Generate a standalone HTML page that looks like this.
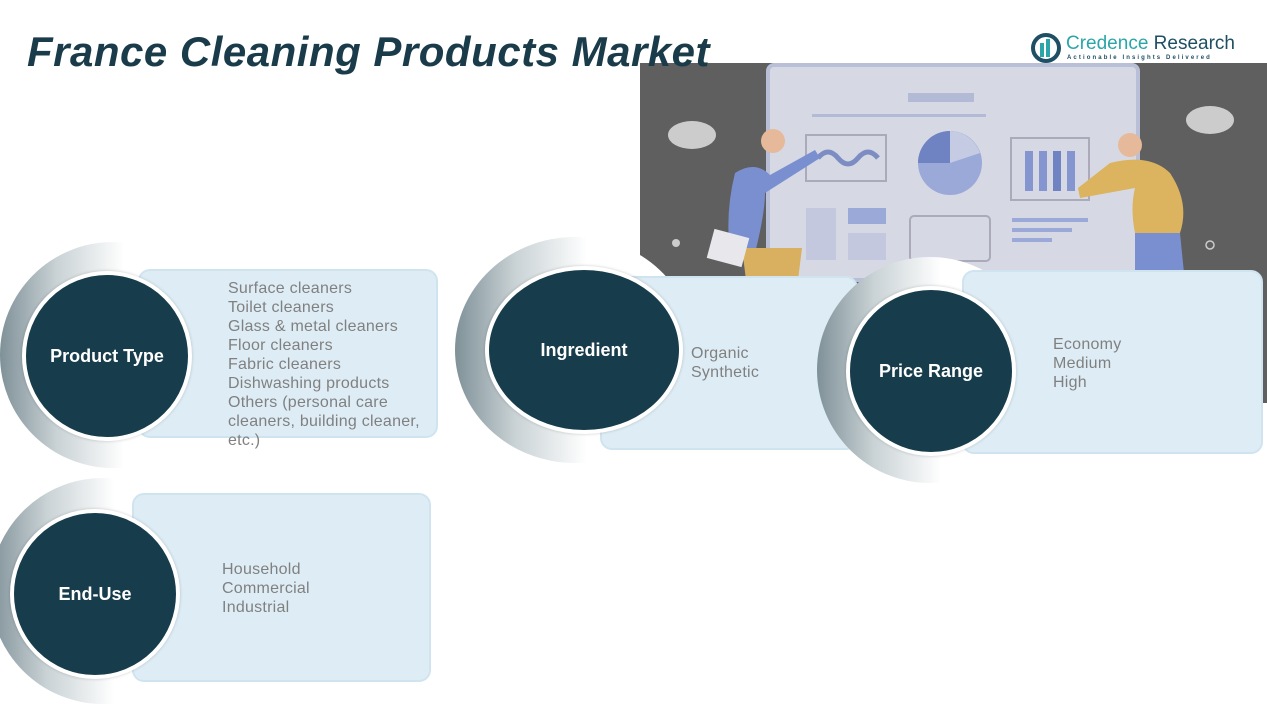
<!DOCTYPE html>
<html><head><meta charset="utf-8"><style>
*{margin:0;padding:0;box-sizing:border-box}
body{width:1267px;height:713px;background:#fff;position:relative;overflow:hidden;font-family:"Liberation Sans",sans-serif}
.title{position:absolute;left:27px;top:28px;font-size:42px;font-weight:bold;font-style:italic;color:#1a3b4a;letter-spacing:0.5px;z-index:2}
.shadow{position:absolute;border-radius:50%;background:linear-gradient(90deg,#7f9198 0%,#c9d2d5 25%,#fff 55%)}
.box{position:absolute;background:#deedf5;border:2px solid #cfe4ef;border-radius:12px}
.circ{position:absolute;border-radius:50%;background:#173c4b;border:4px solid #fff;color:#fff;font-weight:bold;font-size:18px;display:flex;align-items:center;justify-content:center;box-shadow:0 0 3px rgba(0,0,0,.2)}
.txt{position:absolute;color:#808080;font-size:16px;line-height:19px;letter-spacing:0.25px}
</style></head><body>
<div class="title">France Cleaning Products Market</div>
<div style="position:absolute;left:1031px;top:33px;width:30px;height:30px;border-radius:50%;border:4px solid #1f4f63;"></div>
<div style="position:absolute;left:1040px;top:43px;width:4px;height:14px;background:#2aa6a8"></div>
<div style="position:absolute;left:1046px;top:39px;width:4px;height:18px;background:#2aa6a8"></div>
<div style="position:absolute;left:1066px;top:33px;font-size:19px;color:#2aa6a8">Credence <span style="color:#1f4f63">Research</span></div>
<div style="position:absolute;left:1067px;top:55px;font-size:6px;letter-spacing:2.1px;color:#1f4f63;font-weight:bold">Actionable Insights Delivered</div>

<svg style="position:absolute;left:640px;top:63px" width="627" height="340" viewBox="0 0 627 340">
<rect width="627" height="340" fill="#5f5f5f"/>
<rect x="128" y="2" width="370" height="215" rx="6" fill="#d6d9e4" stroke="#b8bfd6" stroke-width="4"/>
<rect x="268" y="30" width="66" height="9" fill="#b2bad6"/>
<rect x="172" y="51" width="174" height="3" fill="#b2bad6"/>
<rect x="166" y="72" width="80" height="46" fill="none" stroke="#aab" stroke-width="2"/>
<path d="M178 95 q10 -12 20 0 t20 0 t20 0" stroke="#7d8dc4" stroke-width="5" fill="none"/>
<circle cx="310" cy="100" r="32" fill="#9ba9d9"/>
<path d="M310 100 L310 68 A32 32 0 0 1 340 90 Z" fill="#c5cbe3"/>
<path d="M310 100 L278 100 A32 32 0 0 1 310 68 Z" fill="#6f82c2"/>
<rect x="371" y="75" width="78" height="62" fill="none" stroke="#aab" stroke-width="2"/>
<rect x="385" y="88" width="8" height="40" fill="#8595cf"/><rect x="399" y="88" width="8" height="40" fill="#8595cf"/><rect x="413" y="88" width="8" height="40" fill="#6f82c2"/><rect x="427" y="88" width="8" height="40" fill="#8595cf"/>
<rect x="166" y="145" width="30" height="52" fill="#c3c8df"/><rect x="208" y="145" width="38" height="16" fill="#9ba9d9"/><rect x="208" y="170" width="38" height="27" fill="#c3c8df"/>
<rect x="270" y="153" width="80" height="45" rx="4" fill="none" stroke="#aab" stroke-width="2"/>
<rect x="372" y="155" width="76" height="4" fill="#9ba9d9"/><rect x="372" y="165" width="60" height="4" fill="#9ba9d9"/><rect x="372" y="175" width="40" height="4" fill="#9ba9d9"/>
<ellipse cx="52" cy="72" rx="24" ry="14" fill="#ccc"/><ellipse cx="570" cy="57" rx="24" ry="14" fill="#ccc"/>
<circle cx="36" cy="180" r="4" fill="#ccc"/><circle cx="570" cy="182" r="4" fill="none" stroke="#ccc" stroke-width="1.5"/>
<path d="M95 110 q-10 40 -5 80 l25 0 q10 -40 10 -60 l55 -35 -5 -8 -45 25 q-15 -15 -35 -2z" fill="#7a8fcf"/>
<circle cx="133" cy="78" r="12" fill="#e6b99a"/>
<path d="M102 185 l60 0 l-5 40 l-50 0z" fill="#d9b060"/>
<rect x="70" y="170" width="36" height="30" fill="#e8e8ec" transform="rotate(15 88 185)"/>
<circle cx="490" cy="82" r="12" fill="#e6b99a"/>
<path d="M470 100 q40 -10 60 10 q20 30 10 60 l-45 0 q-5 -25 0 -45 l-55 10 -2 -10z" fill="#dcb35e"/>
<path d="M495 170 l45 0 l5 50 l-50 0z" fill="#7a8fcf"/>
</svg>

<div class="shadow" style="left:0;top:242px;width:226px;height:226px"></div>
<div class="box" style="left:138px;top:269px;width:300px;height:169px"></div>
<div class="circ" style="left:22px;top:271px;width:170px;height:170px">Product Type</div>
<div class="txt" style="left:228px;top:279px">Surface cleaners<br>Toilet cleaners<br>Glass &amp; metal cleaners<br>Floor cleaners<br>Fabric cleaners<br>Dishwashing products<br>Others (personal care<br>cleaners, building cleaner,<br>etc.)</div>

<div class="shadow" style="left:455px;top:237px;width:240px;height:226px"></div>
<div class="box" style="left:600px;top:276px;width:258px;height:174px"></div>
<div class="circ" style="left:485px;top:266px;width:198px;height:168px">Ingredient</div>
<div class="txt" style="left:691px;top:344px">Organic<br>Synthetic</div>

<div class="shadow" style="left:817px;top:257px;width:226px;height:226px"></div>
<div class="box" style="left:962px;top:270px;width:301px;height:184px"></div>
<div class="circ" style="left:846px;top:286px;width:170px;height:170px">Price Range</div>
<div class="txt" style="left:1053px;top:335px">Economy<br>Medium<br>High</div>

<div class="shadow" style="left:-10px;top:478px;width:226px;height:226px"></div>
<div class="box" style="left:132px;top:493px;width:299px;height:189px"></div>
<div class="circ" style="left:10px;top:509px;width:170px;height:170px">End-Use</div>
<div class="txt" style="left:222px;top:560px">Household<br>Commercial<br>Industrial</div>
</body></html>
